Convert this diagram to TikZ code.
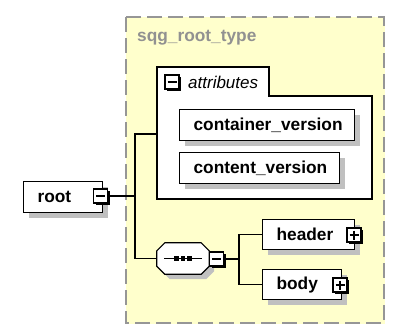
\documentclass[tikz,border=0pt]{standalone}
\usepackage{fontspec}
\setmainfont{Liberation Sans}
\usetikzlibrary{shadows}
\definecolor{typebg}{RGB}{255,255,204}
\definecolor{shadowgray}{RGB}{192,192,192}
\definecolor{dashgray}{RGB}{150,150,150}
\definecolor{titlegray}{RGB}{145,145,145}
\begin{document}
\begin{tikzpicture}[x=1pt,y=-1pt,
  elem/.style={draw=black, line width=1.2pt, fill=white, anchor=north west,
    inner xsep=14pt, inner ysep=0pt, align=left,
    font=\fontsize{17.3}{20}\selectfont\bfseries,
    drop shadow={shadow xshift=5pt, shadow yshift=-5pt, fill=shadowgray, opacity=1}},
  iconbox/.style={draw=black, line width=1.2pt, fill=white, minimum size=14pt, inner sep=0pt,
    drop shadow={shadow xshift=2pt, shadow yshift=-2pt, fill=black, opacity=1}},
  minusicon/.style={iconbox, path picture={\draw[line width=1.1pt]
    ([xshift=2.5pt]path picture bounding box.west) -- ([xshift=-2.5pt]path picture bounding box.east);}},
  plusicon/.style={iconbox, path picture={\draw[line width=1.1pt]
    ([xshift=2.5pt]path picture bounding box.west) -- ([xshift=-2.5pt]path picture bounding box.east)
    ([yshift=-2.5pt]path picture bounding box.north) -- ([yshift=2.5pt]path picture bounding box.south);}},
  conn/.style={line width=1.2pt},
]
\useasboundingbox (0,0) rectangle (403,327);
% complex type box
\fill[typebg] (126,17) rectangle (385,324);
\draw[dashgray, line width=1.3pt, dash pattern=on 15pt off 6pt] (126,17) rectangle (384,323);
\node[anchor=west, inner sep=0pt, text=titlegray, font=\fontsize{17.3}{20}\selectfont\bfseries] (title) at (137,38) {sqg\_root\_type};

% attributes group
\draw[line width=1.2pt, fill=white] (157,67) -- (269,67) -- (269,96) -- (372,96) -- (372,199) -- (157,199) -- cycle;
\node[minusicon] (atticon) at (172,82) {};
\node[anchor=west, inner sep=0pt, font=\fontsize{17}{20}\selectfont\itshape] (attlbl) at (188,82) {attributes};
\node[elem, text width=147pt, minimum height=31pt] (cv) at (179,109) {container\_version};
\node[elem, text width=132pt, minimum height=31pt] (ctv) at (179,152) {content\_version};

% root
\node[elem, text width=51pt, minimum height=31pt] (root) at (23,181) {root};
\node[minusicon] (rooticon) at (100.5,196) {};

% sequence
\node[inner sep=0pt, minimum width=52pt, minimum height=31pt] (seq) at (183,258.5) {};
\draw[line width=1.2pt, fill=white, drop shadow={shadow xshift=5pt, shadow yshift=-5pt, fill=shadowgray, opacity=1}]
  ([xshift=8pt]seq.north west) -- ([xshift=-8pt]seq.north east) -- ([yshift=-8pt]seq.north east)
  -- ([yshift=8pt]seq.south east) -- ([xshift=-8pt]seq.south east) -- ([xshift=8pt]seq.south west)
  -- ([yshift=8pt]seq.south west) -- ([yshift=-8pt]seq.north west) -- cycle;
\draw[line width=1.2pt] ([xshift=-19pt]seq.center) -- ([xshift=19pt]seq.center);
\foreach \dx in {-6.5,0,6.5} {
  \fill ([xshift=\dx pt-2.2pt, yshift=-2.2pt]seq.center) rectangle ([xshift=\dx pt+2.2pt, yshift=2.2pt]seq.center);
}
\node[minusicon] (seqicon) at (216.5,259) {};

% header / body
\node[elem, text width=64pt, minimum height=30pt] (header) at (262,219) {header};
\node[plusicon] (headericon) at (354,235) {};
\node[elem, text width=51pt, minimum height=30pt] (body) at (262,269) {body};
\node[plusicon] (bodyicon) at (340,285) {};

% connectors
\coordinate (ja) at (135,134);
\coordinate (attin) at (157,134);
\coordinate (jc) at (239,259);
\draw[conn] (rooticon.east) -- (rooticon.east -| ja);
\draw[conn] (attin) -- (ja) |- (seq.west);
\draw[conn] (seqicon.east) -- (seqicon.east -| jc);
\draw[conn] (header.west) -| (jc) |- (body.west);
\end{tikzpicture}
\end{document}
